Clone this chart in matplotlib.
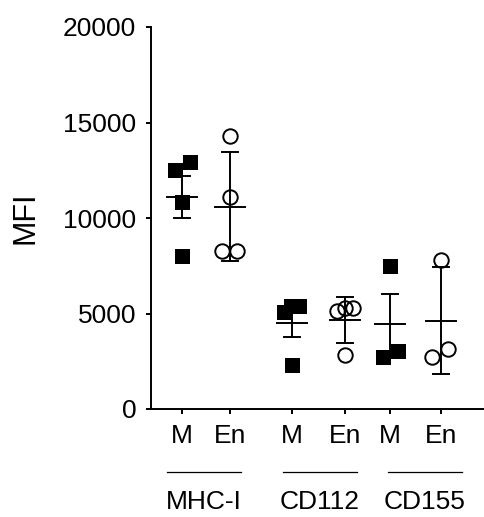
import matplotlib
matplotlib.use("Agg")
import matplotlib.pyplot as plt
import matplotlib.transforms as mtransforms

plt.rcParams['font.family'] = ['Liberation Sans', 'DejaVu Sans']

# x positions of the six columns (M / En for each marker)
positions = [1.0, 2.0, 3.29, 4.4, 5.33, 6.4]
tick_labels = ['M', 'En', 'M', 'En', 'M', 'En']
markers = ['s', 'o', 's', 'o', 's', 'o']

# individual points (MFI) and small horizontal offsets within a column
mhc_m = [12510, 12930, 10840, 8010]
mhc_m_dx = [-0.15, 0.17, 0.0, 0.0]
mhc_en = [14290, 11100, 8270, 8270]
mhc_en_dx = [0.0, 0.0, -0.17, 0.15]
cd112_m = [5080, 5390, 5390, 2300]
cd112_m_dx = [-0.17, -0.02, 0.15, 0.0]
cd112_en = [5130, 5290, 5290, 2830]
cd112_en_dx = [-0.17, 0.0, 0.17, 0.0]
cd155_m = [7490, 2720, 3040]
cd155_m_dx = [0.0, -0.15, 0.17]
cd155_en = [7800, 2720, 3140]
cd155_en_dx = [0.0, -0.19, 0.15]

# mean and error bar
means = [11100, 10580, 4500, 4660, 4450, 4610]
errors = [1100, 2850, 730, 1200, 1570, 2800]

groups = ['MHC-I', 'CD112', 'CD155']
group_centers = [1.46, 3.875, 6.06]

points = [mhc_m, mhc_en, cd112_m, cd112_en, cd155_m, cd155_en]
offsets = [mhc_m_dx, mhc_en_dx, cd112_m_dx, cd112_en_dx, cd155_m_dx, cd155_en_dx]

fig = plt.figure(figsize=(4.84, 5.17), dpi=100)
ax = fig.add_axes([151 / 484, (517 - 409) / 517, 333 / 484, 382 / 517])

lw = 1.4
for x, vals, dx, mean, err, mk in zip(positions, points, offsets, means, errors, markers):
    # error bar
    ax.plot([x, x], [mean - err, mean + err], color='black', lw=lw, zorder=2)
    for yy in (mean - err, mean + err):
        ax.plot([x - 0.17, x + 0.17], [yy, yy], color='black', lw=lw, zorder=2)
    # mean line
    ax.plot([x - 0.31, x + 0.31], [mean, mean], color='black', lw=lw, zorder=2)
    xs = [x + d for d in dx]
    if mk == 's':
        ax.plot(xs, vals, 's', ms=10.8, color='black', mew=0, zorder=3, clip_on=False)
    else:
        ax.plot(xs, vals, 'o', ms=10.4, mfc='none', mec='black', mew=1.4, zorder=3, clip_on=False)

ax.set_xlim(0.354, 7.29)
ax.set_ylim(0, 20000)
ax.set_yticks([0, 5000, 10000, 15000, 20000])
ax.set_xticks(positions)
ax.set_xticklabels(tick_labels)

for s in ['top', 'right']:
    ax.spines[s].set_visible(False)
for s in ['left', 'bottom']:
    ax.spines[s].set_linewidth(1.4)

ax.tick_params(axis='both', direction='out', length=3.6, width=1.4, labelsize=19)
ax.tick_params(axis='y', pad=7)
ax.tick_params(axis='x', pad=7)
ax.set_ylabel('MFI', fontsize=22, labelpad=16)

# group lines and labels under the x axis
trans = mtransforms.blended_transform_factory(ax.transData, ax.transAxes)
for name, c in zip(groups, group_centers):
    ax.plot([c - 0.77, c + 0.77], [-0.165, -0.165], color='black', lw=0.9,
            transform=trans, clip_on=False)
    ax.text(c, -0.243, name, transform=trans, ha='center', va='center', fontsize=19)

fig.savefig('out.png', dpi=100)
